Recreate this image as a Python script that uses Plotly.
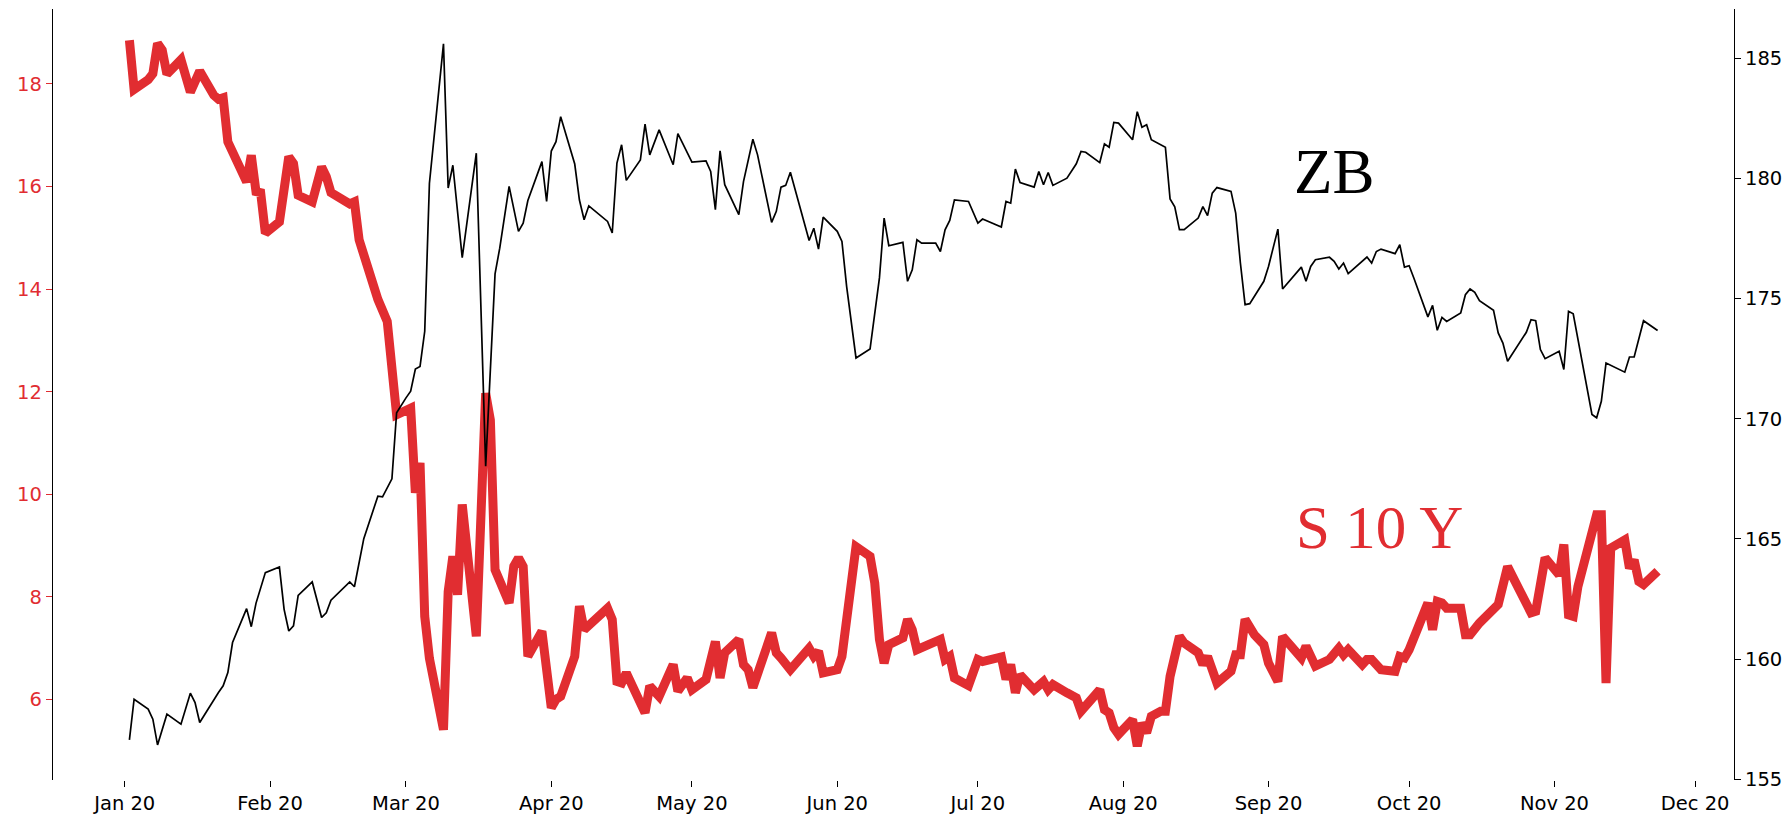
import plotly.graph_objects as go
import pandas as pd

# ---------------- data ----------------
s10y_dates = [
    "2020-01-02", "2020-01-03", "2020-01-06", "2020-01-07", "2020-01-08", "2020-01-09", "2020-01-10",
    "2020-01-13", "2020-01-15", "2020-01-17", "2020-01-20", "2020-01-21", "2020-01-22", "2020-01-23",
    "2020-01-27", "2020-01-28", "2020-01-29", "2020-01-30", "2020-01-31", "2020-02-03", "2020-02-05",
    "2020-02-06", "2020-02-07", "2020-02-10", "2020-02-12", "2020-02-13", "2020-02-14", "2020-02-18",
    "2020-02-19", "2020-02-20", "2020-02-24", "2020-02-26", "2020-02-28", "2020-03-02", "2020-03-03",
    "2020-03-04", "2020-03-05", "2020-03-06", "2020-03-09", "2020-03-10", "2020-03-11", "2020-03-12",
    "2020-03-13", "2020-03-16", "2020-03-18", "2020-03-19", "2020-03-20", "2020-03-23", "2020-03-24",
    "2020-03-25", "2020-03-26", "2020-03-27", "2020-03-30", "2020-04-01", "2020-04-02", "2020-04-03",
    "2020-04-06", "2020-04-07", "2020-04-08", "2020-04-13", "2020-04-14", "2020-04-15", "2020-04-16",
    "2020-04-17", "2020-04-19", "2020-04-21", "2020-04-22", "2020-04-24", "2020-04-27", "2020-04-28",
    "2020-04-30", "2020-05-01", "2020-05-04", "2020-05-06", "2020-05-07", "2020-05-08", "2020-05-11",
    "2020-05-12", "2020-05-13", "2020-05-14", "2020-05-18", "2020-05-19", "2020-05-20", "2020-05-22",
    "2020-05-26", "2020-05-27", "2020-05-28", "2020-05-29", "2020-06-01", "2020-06-02", "2020-06-05",
    "2020-06-08", "2020-06-09", "2020-06-10", "2020-06-11", "2020-06-12", "2020-06-15", "2020-06-16",
    "2020-06-17", "2020-06-18", "2020-06-23", "2020-06-24", "2020-06-25", "2020-06-26", "2020-06-29",
    "2020-07-01", "2020-07-02", "2020-07-06", "2020-07-07", "2020-07-08", "2020-07-09", "2020-07-10",
    "2020-07-13", "2020-07-15", "2020-07-16", "2020-07-17", "2020-07-20", "2020-07-22", "2020-07-23",
    "2020-07-27", "2020-07-28", "2020-07-29", "2020-07-30", "2020-07-31", "2020-08-03", "2020-08-04",
    "2020-08-05", "2020-08-06", "2020-08-07", "2020-08-09", "2020-08-10", "2020-08-11", "2020-08-13",
    "2020-08-14", "2020-08-17", "2020-08-18", "2020-08-19", "2020-08-21", "2020-08-24", "2020-08-25",
    "2020-08-26", "2020-08-27", "2020-08-29", "2020-08-31", "2020-09-01", "2020-09-03", "2020-09-04",
    "2020-09-08", "2020-09-09", "2020-09-11", "2020-09-14", "2020-09-16", "2020-09-17", "2020-09-18",
    "2020-09-21", "2020-09-22", "2020-09-23", "2020-09-25", "2020-09-28", "2020-09-29", "2020-09-30",
    "2020-10-01", "2020-10-05", "2020-10-06", "2020-10-07", "2020-10-08", "2020-10-09", "2020-10-12",
    "2020-10-13", "2020-10-14", "2020-10-16", "2020-10-19", "2020-10-20", "2020-10-22", "2020-10-25",
    "2020-10-27", "2020-10-28", "2020-10-30", "2020-11-02", "2020-11-03", "2020-11-04", "2020-11-05",
    "2020-11-06", "2020-11-10", "2020-11-11", "2020-11-12", "2020-11-13", "2020-11-16", "2020-11-17",
    "2020-11-18", "2020-11-19", "2020-11-20", "2020-11-23",
]
s10y_vals = [
    18.85, 17.89, 18.08, 18.20, 18.79, 18.66, 18.19,
    18.47, 17.84, 18.25, 17.78, 17.70, 17.73, 16.87,
    16.09, 16.61, 15.90, 15.88, 15.09, 15.31, 16.58,
    16.45, 15.83, 15.70, 16.38, 16.19, 15.88, 15.66,
    15.70, 14.96, 13.80, 13.37, 11.55, 11.68, 10.03,
    10.61, 7.62, 6.80, 5.41, 8.10, 8.79, 8.04,
    9.80, 7.23, 11.97, 11.45, 8.53, 7.88, 8.60,
    8.76, 8.59, 6.84, 7.33, 5.84, 6.00, 6.06,
    6.84, 7.82, 7.36, 7.78, 7.56, 6.35, 6.32,
    6.52, 6.13, 5.74, 6.26, 6.06, 6.68, 6.16,
    6.42, 6.19, 6.39, 7.13, 6.42, 6.91, 7.17,
    6.68, 6.58, 6.23, 7.30, 6.91, 6.81, 6.58,
    7.00, 6.84, 6.94, 6.52, 6.58, 6.84, 8.98,
    8.79, 8.27, 7.17, 6.71, 7.07, 7.20, 7.56,
    7.36, 6.97, 7.17, 6.78, 6.84, 6.42, 6.27,
    6.78, 6.74, 6.83, 6.39, 6.68, 6.13, 6.48,
    6.19, 6.35, 6.19, 6.29, 6.13, 6.03, 5.77,
    6.19, 5.80, 5.74, 5.45, 5.32, 5.61, 5.09,
    5.54, 5.35, 5.67, 5.77, 5.77, 6.45, 7.23,
    7.10, 6.91, 6.68, 6.84, 6.32, 6.55, 6.87,
    6.87, 7.56, 7.26, 7.07, 6.71, 6.35, 7.23,
    6.81, 7.04, 6.65, 6.78, 7.00, 6.87, 6.97,
    6.68, 6.78, 6.78, 6.58, 6.55, 6.84, 6.81,
    6.97, 7.88, 7.36, 7.91, 7.88, 7.78, 7.78,
    7.26, 7.26, 7.49, 7.72, 7.85, 8.59, 8.07,
    7.69, 7.72, 8.76, 8.43, 9.02, 7.65, 7.62,
    8.20, 9.60, 9.60, 6.32, 8.95, 9.11, 8.56,
    8.72, 8.30, 8.24, 8.50,
]

zb_dates = [
    "2020-01-02", "2020-01-03", "2020-01-06", "2020-01-07", "2020-01-08", "2020-01-10", "2020-01-13",
    "2020-01-15", "2020-01-16", "2020-01-17", "2020-01-21", "2020-01-22", "2020-01-23", "2020-01-24",
    "2020-01-27", "2020-01-28", "2020-01-29", "2020-01-31", "2020-02-03", "2020-02-04", "2020-02-05",
    "2020-02-06", "2020-02-07", "2020-02-10", "2020-02-12", "2020-02-13", "2020-02-14", "2020-02-18",
    "2020-02-19", "2020-02-21", "2020-02-24", "2020-02-25", "2020-02-27", "2020-02-28", "2020-03-01",
    "2020-03-02", "2020-03-03", "2020-03-04", "2020-03-05", "2020-03-06", "2020-03-09", "2020-03-10",
    "2020-03-11", "2020-03-13", "2020-03-16", "2020-03-18", "2020-03-20", "2020-03-21", "2020-03-23",
    "2020-03-25", "2020-03-26", "2020-03-27", "2020-03-30", "2020-03-31", "2020-04-01", "2020-04-02",
    "2020-04-03", "2020-04-06", "2020-04-07", "2020-04-08", "2020-04-09", "2020-04-13", "2020-04-14",
    "2020-04-15", "2020-04-16", "2020-04-17", "2020-04-20", "2020-04-21", "2020-04-22", "2020-04-24",
    "2020-04-27", "2020-04-28", "2020-05-01", "2020-05-04", "2020-05-05", "2020-05-06", "2020-05-07",
    "2020-05-08", "2020-05-11", "2020-05-12", "2020-05-14", "2020-05-15", "2020-05-18", "2020-05-19",
    "2020-05-20", "2020-05-21", "2020-05-22", "2020-05-26", "2020-05-27", "2020-05-28", "2020-05-29",
    "2020-06-01", "2020-06-02", "2020-06-03", "2020-06-05", "2020-06-08", "2020-06-10", "2020-06-11",
    "2020-06-12", "2020-06-15", "2020-06-16", "2020-06-17", "2020-06-18", "2020-06-19", "2020-06-22",
    "2020-06-23", "2020-06-24", "2020-06-25", "2020-06-26", "2020-06-29", "2020-07-01", "2020-07-02",
    "2020-07-06", "2020-07-07", "2020-07-08", "2020-07-09", "2020-07-10", "2020-07-13", "2020-07-14",
    "2020-07-15", "2020-07-16", "2020-07-17", "2020-07-20", "2020-07-22", "2020-07-23", "2020-07-24",
    "2020-07-27", "2020-07-28", "2020-07-29", "2020-07-30", "2020-07-31", "2020-08-03", "2020-08-04",
    "2020-08-05", "2020-08-06", "2020-08-07", "2020-08-10", "2020-08-11", "2020-08-12", "2020-08-13",
    "2020-08-14", "2020-08-17", "2020-08-18", "2020-08-19", "2020-08-20", "2020-08-21", "2020-08-24",
    "2020-08-25", "2020-08-26", "2020-08-27", "2020-08-28", "2020-08-31", "2020-09-01", "2020-09-02",
    "2020-09-03", "2020-09-04", "2020-09-08", "2020-09-09", "2020-09-10", "2020-09-11", "2020-09-14",
    "2020-09-15", "2020-09-16", "2020-09-17", "2020-09-18", "2020-09-22", "2020-09-23", "2020-09-24",
    "2020-09-25", "2020-09-28", "2020-09-29", "2020-09-30", "2020-10-01", "2020-10-02", "2020-10-05",
    "2020-10-06", "2020-10-07", "2020-10-08", "2020-10-09", "2020-10-12", "2020-10-13", "2020-10-14",
    "2020-10-15", "2020-10-16", "2020-10-19", "2020-10-20", "2020-10-21", "2020-10-22", "2020-10-26",
    "2020-10-27", "2020-10-28", "2020-10-29", "2020-10-30", "2020-11-02", "2020-11-03", "2020-11-04",
    "2020-11-05", "2020-11-09", "2020-11-10", "2020-11-11", "2020-11-12", "2020-11-16", "2020-11-17",
    "2020-11-18", "2020-11-19", "2020-11-20", "2020-11-23",
]
zb_vals = [
    156.64, 158.33, 157.92, 157.50, 156.43, 157.71, 157.29,
    158.58, 158.19, 157.36, 158.61, 158.89, 159.44, 160.69,
    162.10, 161.35, 162.32, 163.60, 163.83, 162.07, 161.17,
    161.38, 162.65, 163.21, 161.73, 161.93, 162.45, 163.21,
    163.01, 165.01, 166.78, 166.75, 167.50, 170.25, 170.87,
    171.15, 172.07, 172.18, 173.64, 179.80, 185.60, 179.60,
    180.55, 176.70, 181.05, 168.03, 176.03, 177.10, 179.67,
    177.80, 178.14, 179.08, 180.70, 179.04, 181.14, 181.53,
    182.57, 180.60, 179.10, 178.28, 178.86, 178.21, 177.73,
    180.64, 181.40, 179.92, 180.77, 182.26, 180.98, 182.02,
    180.57, 181.86, 180.68, 180.73, 180.29, 178.70, 181.15,
    179.74, 178.49, 179.87, 181.63, 180.98, 178.17, 178.63,
    179.64, 179.71, 180.26, 177.42, 177.93, 177.06, 178.39,
    177.80, 177.38, 175.51, 172.53, 172.90, 175.86, 178.35,
    177.20, 177.34, 175.72, 176.20, 177.45, 177.31, 177.31,
    176.96, 177.86, 178.25, 179.11, 179.04, 178.14, 178.31,
    177.98, 179.04, 178.97, 180.39, 179.83, 179.64, 180.29,
    179.74, 180.25, 179.71, 180.01, 180.61, 181.12, 181.09,
    180.66, 181.44, 181.30, 182.33, 182.30, 181.61, 182.78,
    182.13, 182.23, 181.61, 181.30, 179.15, 178.82, 177.87,
    177.87, 178.35, 178.83, 178.45, 179.39, 179.62, 179.46,
    178.56, 176.48, 174.75, 174.79, 175.72, 176.34, 177.10,
    177.89, 175.40, 176.31, 175.72, 176.34, 176.62, 176.72,
    176.55, 176.23, 176.48, 176.04, 176.73, 176.48, 176.96,
    177.06, 176.87, 177.24, 176.31, 176.37, 175.86, 174.24,
    174.72, 173.68, 174.22, 174.05, 174.40, 175.16, 175.40,
    175.26, 174.91, 174.51, 173.57, 173.15, 172.39, 173.60,
    174.12, 174.08, 172.88, 172.50, 172.81, 172.05, 174.47,
    174.37, 170.18, 170.04, 170.73, 172.32, 171.94, 172.57,
    172.57, 173.29, 174.08, 173.67,
]

month_ticks = ["2020-%02d-01" % m for m in range(1, 13)]
month_labels = ["Jan 20", "Feb 20", "Mar 20", "Apr 20", "May 20", "Jun 20",
                "Jul 20", "Aug 20", "Sep 20", "Oct 20", "Nov 20", "Dec 20"]
left_ticks = [6, 8, 10, 12, 14, 16, 18]
right_ticks = [155, 160, 165, 170, 175, 180, 185]

# ---------------- figure ----------------
RED = "#e12d31"
TICKFONT = dict(family="DejaVu Sans", size=19.5)

xr = pd.to_datetime(s10y_dates + zb_dates)
span = xr.max() - xr.min()
x_range = [xr.min() - 0.05 * span, xr.max() + 0.05 * span]

fig = go.Figure()
fig.add_trace(go.Scatter(
    x=pd.to_datetime(s10y_dates), y=s10y_vals, mode="lines", name="S 10 Y",
    line=dict(color=RED, width=9), yaxis="y", showlegend=False))
fig.add_trace(go.Scatter(
    x=pd.to_datetime(zb_dates), y=zb_vals, mode="lines", name="ZB",
    line=dict(color="black", width=1.7), yaxis="y2", showlegend=False))

fig.update_layout(
    template="none",
    width=1791, height=817,
    margin=dict(l=53, r=57, t=9, b=37, pad=0),
    paper_bgcolor="white", plot_bgcolor="white",
    showlegend=False,
    xaxis=dict(
        type="date", range=x_range, tickmode="array",
        tickvals=month_ticks, ticktext=month_labels,
        ticks="outside", ticklen=6, tickwidth=1.2, tickcolor="black",
        showline=False, showgrid=False, zeroline=False, automargin=False,
        tickfont=dict(color="black", **TICKFONT),
    ),
    yaxis=dict(
        range=[4.43, 19.46], tickmode="array", tickvals=left_ticks,
        ticks="outside", ticklen=6, tickwidth=1.2, tickcolor=RED,
        showline=True, linecolor="black", linewidth=1.3,
        showgrid=False, zeroline=False, automargin=False,
        tickfont=dict(color=RED, **TICKFONT),
    ),
    yaxis2=dict(
        overlaying="y", side="right",
        range=[154.97, 187.05], tickmode="array", tickvals=right_ticks,
        ticks="outside", ticklen=6, tickwidth=1.2, tickcolor="black",
        showline=True, linecolor="black", linewidth=1.3,
        showgrid=False, zeroline=False, automargin=False,
        tickfont=dict(color="black", **TICKFONT),
    ),
    annotations=[
        dict(text="ZB", xref="paper", yref="paper", x=0.737, y=0.789,
             xanchor="left", yanchor="middle", showarrow=False,
             font=dict(family="Liberation Serif", size=63, color="black")),
        dict(text="S 10 Y", xref="paper", yref="paper", x=0.738, y=0.327,
             xanchor="left", yanchor="middle", showarrow=False,
             font=dict(family="Liberation Serif", size=61, color=RED)),
    ],
)

fig.write_html("out.html", config={"displayModeBar": False},
               post_script="document.body.style.margin='0px';")
